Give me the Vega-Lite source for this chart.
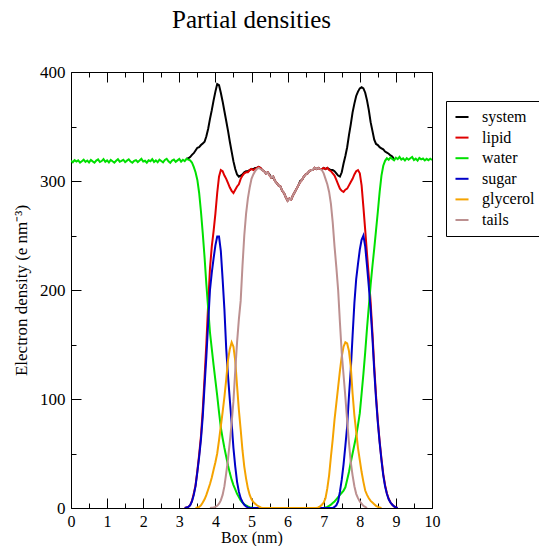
{
  "$schema": "https://vega.github.io/schema/vega-lite/v6.json",
  "width": 361,
  "height": 436,
  "autosize": "none",
  "padding": {"left": 71, "top": 72, "right": 107, "bottom": 38},
  "background": "white",
  "title": {"text": "Partial densities", "font": "Liberation Serif", "fontSize": 25, "fontWeight": "normal", "color": "black", "anchor": "middle", "frame": "group", "offset": 30},
  "data": {"values": [
    {"x":4.00,"system":382,"lipid":270,"water":117,"sugar":241,"glycerol":42,"tails":1},
    {"x":0,"water":318.5},{"x":0.05,"water":317.2},{"x":0.1,"water":319.1},{"x":0.15,"water":317.8},{"x":0.2,"water":318.9},{"x":0.25,"water":316.9},{"x":0.3,"water":318.2},{"x":0.35,"water":319.6},{"x":0.4,"water":317.5},{"x":0.45,"water":318.8},
    {"x":0.5,"water":317.1},{"x":0.55,"water":319.3},{"x":0.6,"water":318.0},{"x":0.65,"water":316.8},{"x":0.7,"water":318.7},{"x":0.75,"water":319.8},{"x":0.8,"water":317.4},{"x":0.85,"water":318.3},{"x":0.9,"water":320.1},{"x":0.95,"water":317.6},
    {"x":1.0,"water":318.9},{"x":1.05,"water":317.0},{"x":1.1,"water":319.4},{"x":1.15,"water":318.1},{"x":1.2,"water":316.9},{"x":1.25,"water":318.6},{"x":1.3,"water":320.0},{"x":1.35,"water":317.7},{"x":1.4,"water":318.4},{"x":1.45,"water":319.5},
    {"x":1.5,"water":317.3},{"x":1.55,"water":318.7},{"x":1.6,"water":319.9},{"x":1.65,"water":317.8},{"x":1.7,"water":316.7},{"x":1.75,"water":318.5},{"x":1.8,"water":319.2},{"x":1.85,"water":317.4},{"x":1.9,"water":318.8},{"x":1.95,"water":320.3},
    {"x":2.0,"water":317.9},{"x":2.05,"water":318.6},{"x":2.1,"water":316.8},{"x":2.15,"water":319.0},{"x":2.2,"water":318.2},{"x":2.25,"water":320.0},{"x":2.3,"water":317.5},{"x":2.35,"water":318.9},{"x":2.4,"water":317.2},{"x":2.45,"water":319.6},
    {"x":2.5,"water":318.4},{"x":2.55,"water":317.1},{"x":2.6,"water":319.3},{"x":2.65,"water":320.4},{"x":2.7,"water":318.0},{"x":2.75,"water":316.6},{"x":2.8,"water":318.8},{"x":2.85,"water":319.7},{"x":2.9,"water":317.6},{"x":2.95,"water":318.9},
    {"x":3.0,"water":320.2},{"x":3.05,"water":317.8},{"x":3.1,"water":319.5},
    {"x":3.15,"water":318.3,"lipid":0,"sugar":0},
    {"x":3.20,"system":320.4,"water":320.4,"lipid":0.5,"sugar":0.5},
    {"x":3.25,"system":320.8,"water":319.6,"lipid":1,"sugar":1},
    {"x":3.30,"system":322,"water":318.9,"lipid":2.5,"sugar":2.5},
    {"x":3.35,"system":324,"water":317,"lipid":6.5,"sugar":6},
    {"x":3.40,"system":325.5,"water":313,"lipid":13,"sugar":12},
    {"x":3.45,"system":328,"water":308,"lipid":21,"sugar":20,"glycerol":0},
    {"x":3.50,"system":330.5,"water":301,"lipid":34,"sugar":33,"glycerol":0.5},
    {"x":3.55,"system":331,"water":289,"lipid":49,"sugar":47,"glycerol":1},
    {"x":3.60,"system":333,"water":272,"lipid":66,"sugar":63,"glycerol":2.5},
    {"x":3.65,"system":334.5,"water":252,"lipid":90,"sugar":84,"glycerol":5},
    {"x":3.70,"system":336,"water":230,"lipid":120,"sugar":112,"glycerol":8},
    {"x":3.75,"system":341,"water":205,"lipid":151,"sugar":139,"glycerol":12},
    {"x":3.80,"system":348,"water":183,"lipid":187,"sugar":170,"glycerol":17},
    {"x":3.85,"system":357,"water":161,"lipid":220,"sugar":200,"glycerol":22,"tails":0},
    {"x":3.90,"system":365,"water":146,"lipid":240,"sugar":216,"glycerol":28,"tails":0.3},
    {"x":3.95,"system":374,"water":131,"lipid":254,"sugar":229,"glycerol":35,"tails":0.5},
    {"x":4.05,"system":389,"water":103,"lipid":289,"sugar":249,"glycerol":50,"tails":2},
    {"x":4.10,"system":388,"water":88,"lipid":304,"sugar":249,"glycerol":62,"tails":4},
    {"x":4.15,"system":381,"water":74,"lipid":310,"sugar":236,"glycerol":75,"tails":7},
    {"x":4.20,"system":373,"water":64,"lipid":309,"sugar":210,"glycerol":88,"tails":12},
    {"x":4.25,"system":364,"water":55,"lipid":305,"sugar":182,"glycerol":102,"tails":20},
    {"x":4.30,"system":355,"water":47,"lipid":302,"sugar":146,"glycerol":118,"tails":32},
    {"x":4.35,"system":346,"water":39,"lipid":298,"sugar":121,"glycerol":136,"tails":45},
    {"x":4.40,"system":336,"water":32,"lipid":294,"sugar":99,"glycerol":146,"tails":61},
    {"x":4.45,"system":327,"water":26,"lipid":291,"sugar":78,"glycerol":152,"tails":78},
    {"x":4.50,"system":318,"water":21,"lipid":289,"sugar":55,"glycerol":148,"tails":98},
    {"x":4.55,"system":311,"water":17,"lipid":292,"sugar":38,"glycerol":135,"tails":126},
    {"x":4.60,"system":306,"water":13,"lipid":295,"sugar":24,"glycerol":112,"tails":152},
    {"x":4.65,"system":304,"water":10,"lipid":297,"sugar":15,"glycerol":90,"tails":173},
    {"x":4.70,"system":305,"water":7,"lipid":302,"sugar":9,"glycerol":72,"tails":190},
    {"x":4.75,"system":306,"water":5,"lipid":305,"sugar":5.5,"glycerol":53,"tails":222},
    {"x":4.80,"system":308,"water":3.5,"lipid":307,"sugar":3,"glycerol":38,"tails":250},
    {"x":4.85,"system":309,"water":2.3,"lipid":308,"sugar":1.5,"glycerol":27,"tails":270},
    {"x":4.90,"system":309,"water":1.4,"lipid":308,"sugar":0.5,"glycerol":18,"tails":284},
    {"x":4.95,"system":310,"water":0.8,"lipid":310,"sugar":0,"glycerol":12,"tails":294},
    {"x":5.00,"system":311,"water":0.4,"lipid":311,"glycerol":8,"tails":302},
    {"x":5.05,"system":311,"water":0,"lipid":310,"glycerol":5.5,"tails":306},
    {"x":5.10,"system":312,"lipid":311,"glycerol":4,"tails":309},
    {"x":5.15,"system":312,"lipid":312,"glycerol":2.5,"tails":311},
    {"x":5.20,"system":313,"lipid":313,"glycerol":1.5,"tails":312},
    {"x":5.25,"system":312,"lipid":312,"glycerol":0.5,"tails":311},
    {"x":5.30,"system":310,"lipid":310,"glycerol":0,"tails":310},
    {"x":5.35,"system":309,"lipid":309,"tails":309},
    {"x":5.40,"system":307,"lipid":307,"tails":307},
    {"x":5.45,"system":308,"lipid":308,"tails":308},
    {"x":5.50,"system":306,"lipid":305,"tails":305},
    {"x":5.55,"system":303,"lipid":303,"tails":303},
    {"x":5.60,"system":304,"lipid":304,"tails":304},
    {"x":5.65,"system":300,"lipid":300,"tails":300},
    {"x":5.70,"system":298,"lipid":298,"tails":298},
    {"x":5.75,"system":296,"lipid":296,"tails":296},
    {"x":5.80,"system":295,"lipid":295,"tails":295},
    {"x":5.85,"system":291,"lipid":291,"tails":291},
    {"x":5.90,"system":289,"lipid":289,"tails":289},
    {"x":5.95,"system":285,"lipid":285,"tails":285},
    {"x":6.00,"system":282,"lipid":282,"tails":282},
    {"x":6.05,"system":284,"lipid":284,"tails":284},
    {"x":6.10,"system":283,"lipid":283,"tails":283},
    {"x":6.15,"system":287,"lipid":287,"tails":287},
    {"x":6.20,"system":290,"lipid":290,"tails":290},
    {"x":6.25,"system":293,"lipid":293,"tails":293},
    {"x":6.30,"system":296,"lipid":296,"tails":296},
    {"x":6.35,"system":300,"lipid":299,"tails":299},
    {"x":6.40,"system":301,"lipid":301,"tails":301},
    {"x":6.45,"system":304,"lipid":304,"tails":304},
    {"x":6.50,"system":306,"lipid":306,"tails":306},
    {"x":6.55,"system":307,"lipid":307,"tails":307},
    {"x":6.60,"system":309,"lipid":309,"tails":309},
    {"x":6.65,"system":310,"lipid":310,"tails":310},
    {"x":6.70,"system":310,"lipid":310,"tails":310},
    {"x":6.75,"system":312,"lipid":312,"tails":312},
    {"x":6.80,"system":311,"lipid":311,"glycerol":0,"tails":311},
    {"x":6.85,"system":312,"lipid":312,"glycerol":0.5,"tails":312},
    {"x":6.90,"system":311,"lipid":311,"glycerol":1.5,"tails":311},
    {"x":6.95,"system":311,"lipid":311,"glycerol":3,"tails":310},
    {"x":7.00,"system":312,"lipid":312,"water":0,"glycerol":5,"tails":307},
    {"x":7.05,"system":311,"lipid":311,"water":0.5,"glycerol":9,"tails":302},
    {"x":7.10,"system":312,"lipid":312,"water":1,"glycerol":18,"tails":297},
    {"x":7.15,"system":311,"lipid":310,"water":2,"glycerol":30,"tails":290},
    {"x":7.20,"system":310,"lipid":309,"water":3,"glycerol":47,"tails":279},
    {"x":7.25,"system":310,"lipid":307,"water":4.5,"sugar":0,"glycerol":63,"tails":262},
    {"x":7.30,"system":309,"lipid":305,"water":6,"sugar":1,"glycerol":81,"tails":240},
    {"x":7.35,"system":307,"lipid":301,"water":8,"sugar":2.5,"glycerol":96,"tails":221},
    {"x":7.40,"system":305,"lipid":297,"water":10,"sugar":6,"glycerol":111,"tails":200},
    {"x":7.45,"system":304,"lipid":293,"water":12,"sugar":15,"glycerol":126,"tails":170},
    {"x":7.50,"system":308,"lipid":291,"water":14,"sugar":26,"glycerol":139,"tails":142},
    {"x":7.55,"system":316,"lipid":290,"water":16,"sugar":40,"glycerol":148,"tails":122},
    {"x":7.60,"system":323,"lipid":292,"water":19,"sugar":57,"glycerol":152,"tails":102},
    {"x":7.65,"system":331,"lipid":293,"water":26,"sugar":75,"glycerol":151,"tails":80},
    {"x":7.70,"system":342,"lipid":296,"water":33,"sugar":103,"glycerol":144,"tails":60},
    {"x":7.75,"system":352,"lipid":299,"water":42,"sugar":127,"glycerol":130,"tails":42},
    {"x":7.80,"system":363,"lipid":302,"water":50,"sugar":158,"glycerol":105,"tails":30},
    {"x":7.85,"system":371,"lipid":306,"water":58,"sugar":188,"glycerol":85,"tails":20},
    {"x":7.90,"system":378,"lipid":309,"water":66,"sugar":210,"glycerol":70,"tails":13},
    {"x":7.95,"system":382,"lipid":310,"water":76,"sugar":224,"glycerol":55,"tails":9},
    {"x":8.00,"system":385,"lipid":307,"water":87,"sugar":237,"glycerol":44,"tails":6},
    {"x":8.05,"system":386,"lipid":296,"water":105,"sugar":246,"glycerol":33,"tails":4},
    {"x":8.10,"system":385,"lipid":276,"water":123,"sugar":250,"glycerol":24,"tails":2},
    {"x":8.15,"system":381,"lipid":255,"water":143,"sugar":240,"glycerol":16,"tails":1},
    {"x":8.20,"system":374,"lipid":233,"water":165,"sugar":222,"glycerol":12,"tails":0},
    {"x":8.25,"system":365,"lipid":212,"water":185,"sugar":203,"glycerol":9},
    {"x":8.30,"system":354,"lipid":189,"water":205,"sugar":182,"glycerol":6.5},
    {"x":8.35,"system":346,"lipid":161,"water":222,"sugar":156,"glycerol":5},
    {"x":8.40,"system":338,"lipid":130,"water":238,"sugar":126,"glycerol":3.5},
    {"x":8.45,"system":334,"lipid":103,"water":255,"sugar":100,"glycerol":2},
    {"x":8.50,"system":333,"lipid":80,"water":272,"sugar":78,"glycerol":1},
    {"x":8.55,"system":331,"lipid":61,"water":290,"sugar":60,"glycerol":0.5},
    {"x":8.60,"system":330,"lipid":45,"water":305,"sugar":44,"glycerol":0},
    {"x":8.65,"system":329,"lipid":31,"water":314,"sugar":30},
    {"x":8.70,"system":327,"lipid":21,"water":318.5,"sugar":20},
    {"x":8.75,"system":326,"lipid":13.5,"water":320.8,"sugar":13},
    {"x":8.80,"system":325,"lipid":8.5,"water":319.4,"sugar":8},
    {"x":8.85,"system":323.5,"lipid":5,"water":321.6,"sugar":5},
    {"x":8.90,"system":322.5,"lipid":3,"water":320.2,"sugar":3},
    {"x":8.95,"system":320,"lipid":1.5,"water":318.9,"sugar":1.5},
    {"x":9.00,"lipid":0.5,"water":321.3,"sugar":0.5},
    {"x":9.05,"lipid":0,"water":320.0,"sugar":0},
    {"x":9.1,"water":322.1},{"x":9.15,"water":319.6},{"x":9.2,"water":320.7},{"x":9.25,"water":318.8},{"x":9.3,"water":321.0},{"x":9.35,"water":319.5},{"x":9.4,"water":320.9},{"x":9.45,"water":322.0},{"x":9.5,"water":319.2},{"x":9.55,"water":320.5},
    {"x":9.6,"water":318.7},{"x":9.65,"water":321.2},{"x":9.7,"water":319.9},{"x":9.75,"water":320.6},{"x":9.8,"water":318.9},{"x":9.85,"water":320.3},{"x":9.9,"water":319.1},{"x":9.95,"water":320.4},{"x":10.0,"water":319.3}
  ]},
  "transform": [
    {"fold": ["system", "lipid", "water", "sugar", "glycerol", "tails"]},
    {"filter": "isValid(datum.value)"}
  ],
  "layer": [
    {
      "mark": {"type": "line", "strokeWidth": 2, "clip": true},
      "encoding": {
        "x": {"field": "x", "type": "quantitative", "scale": {"domain": [0, 10], "nice": false, "zero": false},
              "axis": {"orient": "bottom", "values": [0,1,2,3,4,5,6,7,8,9,10], "tickSize": -10, "labelPadding": 15, "labelFlush": false, "labelFont": "Liberation Serif", "labelFontSize": 16, "title": "Box (nm)", "titleFont": "Liberation Serif", "titleFontSize": 16, "titlePadding": 0, "domain": false}},
        "y": {"field": "value", "type": "quantitative", "scale": {"domain": [0, 400], "nice": false},
              "axis": {"orient": "left", "values": [0,100,200,300,400], "tickSize": -10, "labelPadding": 16, "labelFont": "Liberation Serif", "labelFontSize": 17, "title": "Electron density (e nm⁻³)", "titleFont": "Liberation Serif", "titleFontSize": 17, "titlePadding": 9, "domain": false}},
        "color": {"field": "key", "type": "nominal",
                  "scale": {"domain": ["system", "lipid", "water", "sugar", "glycerol", "tails"],
                            "range": ["#000000", "#e00000", "#00e000", "#0000c8", "#f5a300", "#bc9090"]},
                  "legend": {"title": null, "orient": "none", "legendX": 375, "legendY": 29,
                             "symbolType": "stroke", "symbolSize": 170, "symbolStrokeWidth": 2,
                             "labelFont": "Liberation Serif", "labelFontSize": 16, "labelColor": "black",
                             "strokeColor": "black", "fillColor": "white", "padding": 8, "rowPadding": 4.6, "labelOffset": 12}}
      }
    },
    {
      "transform": [{"filter": "datum.x == 0"}],
      "mark": {"type": "point", "opacity": 0},
      "encoding": {
        "x": {"field": "x", "type": "quantitative", "axis": {"orient": "bottom", "values": [0.5,1.5,2.5,3.5,4.5,5.5,6.5,7.5,8.5,9.5], "tickSize": -5, "labels": false, "title": null, "domain": false}},
        "y": {"field": "value", "type": "quantitative", "axis": {"orient": "left", "values": [50,150,250,350], "tickSize": -5, "labels": false, "title": null, "domain": false}}
      }
    },
    {
      "transform": [{"filter": "datum.x == 0"}],
      "mark": {"type": "point", "opacity": 0},
      "encoding": {
        "x": {"field": "x", "type": "quantitative", "axis": {"orient": "top", "values": [0,1,2,3,4,5,6,7,8,9,10], "tickSize": -10, "labels": false, "title": null, "domain": false}},
        "y": {"field": "value", "type": "quantitative", "axis": {"orient": "right", "values": [0,100,200,300,400], "tickSize": -10, "labels": false, "title": null, "domain": false}}
      }
    },
    {
      "transform": [{"filter": "datum.x == 0"}],
      "mark": {"type": "point", "opacity": 0},
      "encoding": {
        "x": {"field": "x", "type": "quantitative", "axis": {"orient": "top", "values": [0.5,1.5,2.5,3.5,4.5,5.5,6.5,7.5,8.5,9.5], "tickSize": -5, "labels": false, "title": null, "domain": false}},
        "y": {"field": "value", "type": "quantitative", "axis": {"orient": "right", "values": [50,150,250,350], "tickSize": -5, "labels": false, "title": null, "domain": false}}
      }
    }
  ],
  "resolve": {"axis": {"x": "independent", "y": "independent"}},
  "config": {
    "font": "Liberation Serif",
    "view": {"stroke": "black", "strokeWidth": 1},
    "axis": {"grid": false, "labelFont": "Liberation Serif", "labelFontSize": 17, "labelColor": "black",
             "titleFont": "Liberation Serif", "titleFontSize": 17, "titleFontWeight": "normal", "titleColor": "black",
             "tickColor": "black", "tickWidth": 1},
    "legend": {"labelFont": "Liberation Serif"}
  }
}
